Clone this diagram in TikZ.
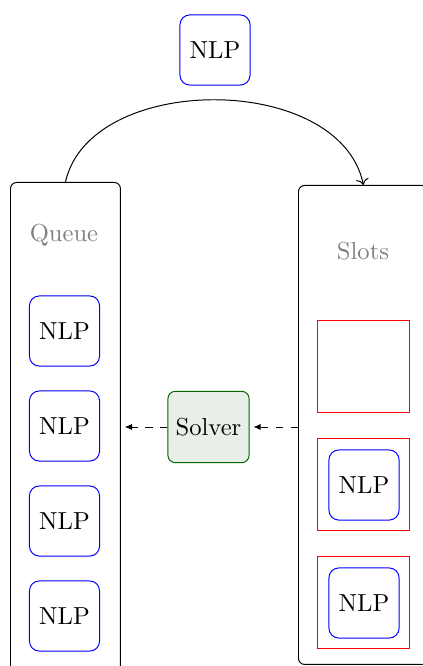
\documentclass[tikz,border=0pt]{standalone}
\usetikzlibrary{arrows.meta}
\begin{document}
\begin{tikzpicture}[x=0.4065pt,y=-0.4065pt,
  nlp/.style={draw=blue,rounded corners=4pt,minimum width=28.5pt,minimum height=28.5pt,inner sep=0pt,font=\normalsize},
  slot/.style={draw=red,minimum width=37.4pt,minimum height=37.4pt,inner sep=0pt},
  container/.style={draw,rounded corners=2.5pt,inner sep=0pt},
  title/.style={text=gray},
  solverbox/.style={draw=green!40!black,fill=green!30!black!9,rounded corners=3pt,minimum width=33pt,minimum height=29pt,inner sep=1pt},
  flow/.style={dashed,-{Latex[length=3pt,width=2.5pt]},shorten >=1.5pt}]
\useasboundingbox (0,0) rectangle (423,666);

% incoming problem
\node[nlp] (top) at (215,50) {NLP};

% queue column
\node[container,minimum width=44.7pt,minimum height=199pt,anchor=north west] (queue) at (10,182) {};
\node[title] (qlabel) at (64,235) {Queue};
\node[nlp] (q1) at (64.5,331) {NLP};
\node[nlp] (q2) at (64.5,426) {NLP};
\node[nlp] (q3) at (64.5,521) {NLP};
\node[nlp] (q4) at (64.5,616) {NLP};

% slot column
\node[container,minimum width=52.8pt,minimum height=194.7pt,anchor=north west] (slots) at (298,185) {};
\node[title] (slabel) at (363,251) {Slots};
\node[slot] (s1) at (363,366.5) {};
\node[slot] (s2) at (363,484) {};
\node[slot] (s3) at (363,602) {};
\node[nlp] (n2) at (364,485) {NLP};
\node[nlp] (n3) at (364,603) {NLP};

% solver
\node[solverbox] (solver) at (208.5,427) {Solver};

% connectors
\draw[->] (queue.north) .. controls (90,72) and (340,72) .. (slots.north);
\draw[flow] (slots.west |- solver) -- (solver.east);
\draw[flow] (solver.west) -- (queue.east |- solver);
\end{tikzpicture}
\end{document}
